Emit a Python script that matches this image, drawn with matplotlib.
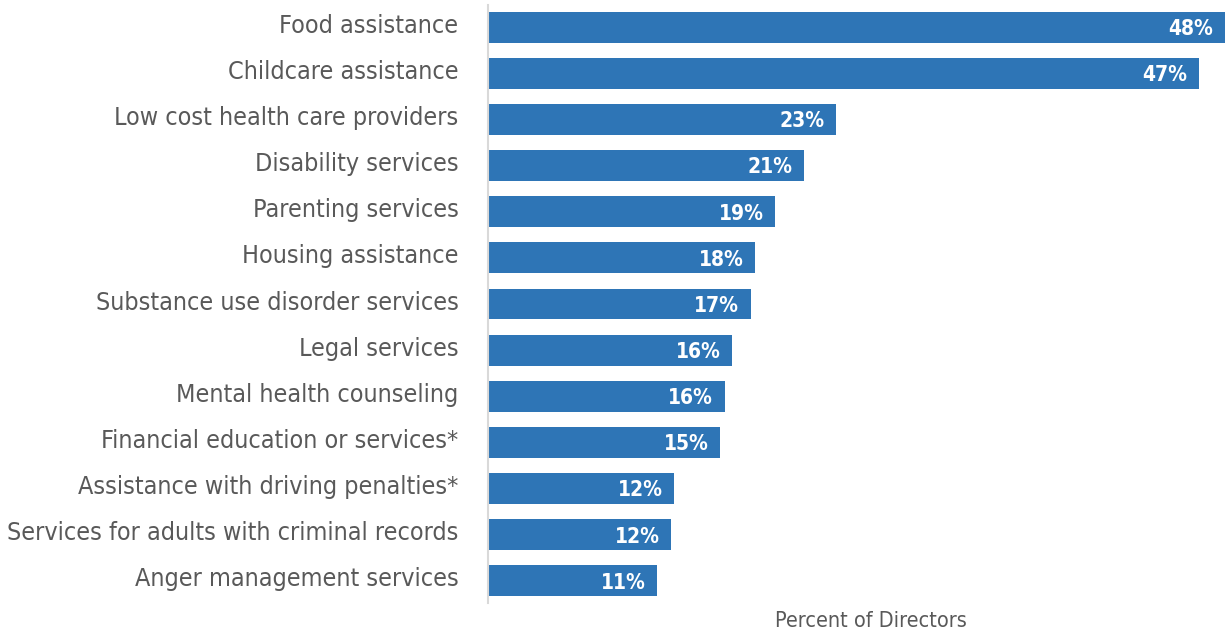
import matplotlib
matplotlib.use("Agg")
import matplotlib.pyplot as plt
from matplotlib import font_manager
from matplotlib.transforms import ScaledTranslation

categories = ["Food assistance", "Childcare assistance", "Low cost health care providers",
              "Disability services", "Parenting services", "Housing assistance",
              "Substance use disorder services", "Legal services", "Mental health counseling",
              "Financial education or services*", "Assistance with driving penalties*",
              "Services for adults with criminal records", "Anger management services"]
values = [48.2, 46.5, 22.8, 20.7, 18.8, 17.5, 17.2, 16.0, 15.5, 15.2, 12.2, 12.0, 11.1]
value_labels = ["48%", "47%", "23%", "21%", "19%", "18%", "17%", "16%", "16%", "15%", "12%", "12%", "11%"]

# use a condensed face if one is installed
condensed = [f for f in font_manager.fontManager.ttflist
             if f.name == "DejaVu Sans" and f.stretch in ("condensed", "semi-condensed")]
stretch = "condensed" if condensed else "normal"
plt.rcParams['font.family'] = ['DejaVu Sans']
plt.rcParams['font.stretch'] = stretch

bar_color = "#2E75B6"
text_color = "#595959"

fig = plt.figure(figsize=(12.25, 6.36), dpi=100)
ax = fig.add_axes([0.398, 0.052, 0.602, 0.940])

y = list(range(len(categories)))
ax.barh(y, values, height=0.67, color=bar_color)
for yi, v, lab in zip(y, values, value_labels):
    ax.text(v - 0.75, yi + 0.04, lab, ha='right', va='center', color='white',
            fontsize=15, fontweight='bold', fontstretch=stretch)

lab_size = 18 if condensed else 15.5
ax.set_yticks(y)
ax.set_yticklabels(categories, fontsize=lab_size, color=text_color, fontstretch=stretch)
ax.tick_params(axis='y', length=0, pad=21)
shift = ScaledTranslation(0, 4 / 100, fig.dpi_scale_trans)
for t in ax.get_yticklabels():
    t.set_transform(t.get_transform() + shift)
ax.set_xticks([])
ax.set_xlim(0, 48.2)
ax.set_ylim(len(categories) - 1 + 0.476, -0.476)
for s in ['top', 'right', 'bottom']:
    ax.spines[s].set_visible(False)
ax.spines['left'].set_color('#D9D9D9')
ax.spines['left'].set_linewidth(1.5)
ax.set_xlabel("Percent of Directors", fontsize=15.5, color=text_color, fontstretch=stretch)
ax.xaxis.set_label_coords(0.52, -0.013, transform=ax.transAxes)
ax.xaxis.label.set_va('top')

fig.savefig("out.png", dpi=100)
